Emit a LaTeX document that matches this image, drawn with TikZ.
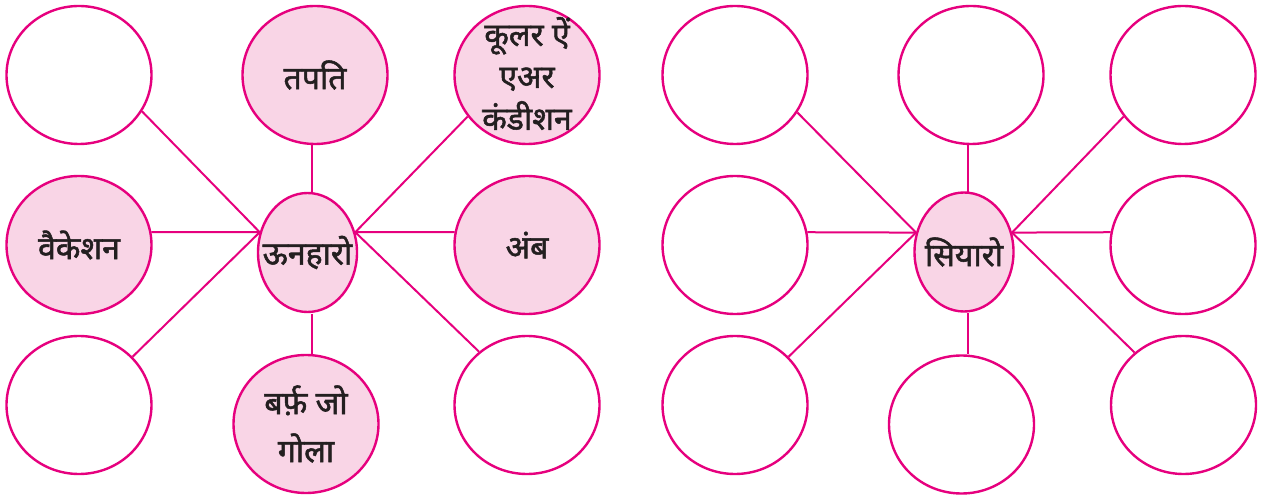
\documentclass[tikz,border=0pt]{standalone}
\usepackage{fontspec}
\newfontfamily\hindi[Script=Devanagari, FakeBold=1.6]{Noto Sans}
\usetikzlibrary{shapes.geometric}

\definecolor{webpink}{RGB}{230,0,126}
\definecolor{webfill}{RGB}{249,213,230}
\definecolor{webtext}{RGB}{35,31,32}

\begin{document}
\begin{tikzpicture}[x=0.5pt, y=-0.5pt,
    bubble/.style={ellipse, draw=webpink, line width=1.2pt, inner sep=0pt,
        minimum width=72.5pt, minimum height=69pt, align=center, text=webtext,
        font=\hindi\fontsize{16}{21}\selectfont},
    filled/.style={fill=webfill},
    hub/.style={ellipse, draw=webpink, fill=webfill, line width=1.2pt, inner sep=0pt,
        minimum width=49.5pt, minimum height=59.5pt, text=webtext,
        font=\hindi\fontsize{16}{18}\selectfont},
    spoke/.style={draw=webpink, line width=1pt}]
    \useasboundingbox (0,0) rectangle (1267,496);

    % Left web (filled in)
    \node[hub] (unharo) at (307.5,252.5) {\makebox[0pt]{ऊनहारो}};
    \node[bubble] (lTL) at (79,75) {};
    \node[bubble, filled] (tapati) at (315,75) {तपति};
    \node[bubble, filled] (cooler) at (527,75)
        {\smash{\raisebox{-6.5pt}{\begin{tabular}{@{}c@{}}कूलर ऐं\\एअर\\कंडीशन\end{tabular}}}};
    \node[bubble, filled] (vacation) at (79,245) {वैकेशन};
    \node[bubble, filled] (amb) at (527,245) {अंब};
    \node[bubble] (lBL) at (79,405) {};
    \node[bubble, filled, font=\hindi\fontsize{16}{24}\selectfont] (barf) at (306,424) {बर्फ़ जो\\गोला};
    \node[bubble] (lBR) at (527,405) {};

    \draw[spoke] (lTL.-30) -- (unharo.157);
    \draw[spoke] (vacation.10) -- (unharo.157);
    \draw[spoke] (lBL.42) -- (unharo.157);
    \draw[spoke] (cooler.-145) -- (unharo.23);
    \draw[spoke] (amb.170) -- (unharo.23);
    \draw[spoke] (lBR.132) -- (unharo.23);
    \draw[spoke] (unharo.86) -- (unharo.86 |- tapati.south);
    \draw[spoke] ([yshift=-0.5pt]unharo.-86) -- (unharo.-86 |- barf.north);

    % Right web (empty)
    \node[hub] (siyaro) at (964,252) {\makebox[0pt]{सियारो}};
    \node[bubble] (rTL) at (735,75) {};
    \node[bubble] (rTM) at (971,75) {};
    \node[bubble] (rTR) at (1183,75) {};
    \node[bubble] (rML) at (735,245) {};
    \node[bubble] (rMR) at (1183,245) {};
    \node[bubble] (rBL) at (735,405) {};
    \node[bubble] (rBM) at (961.5,424.5) {};
    \node[bubble] (rBR) at (1183.5,405) {};

    \draw[spoke] (rTL.-31) -- (siyaro.158);
    \draw[spoke] (rML.10) -- (siyaro.158);
    \draw[spoke] (rBL.42) -- (siyaro.158);
    \draw[spoke] (rTR.-145) -- (siyaro.22);
    \draw[spoke] (rMR.170) -- (siyaro.22);
    \draw[spoke] (rBR.133) -- (siyaro.22);
    \draw[spoke] (siyaro.86) -- (siyaro.86 |- rTM.south);
    \draw[spoke] ([yshift=-0.5pt]siyaro.-86) -- (siyaro.-86 |- rBM.north);
\end{tikzpicture}
\end{document}
